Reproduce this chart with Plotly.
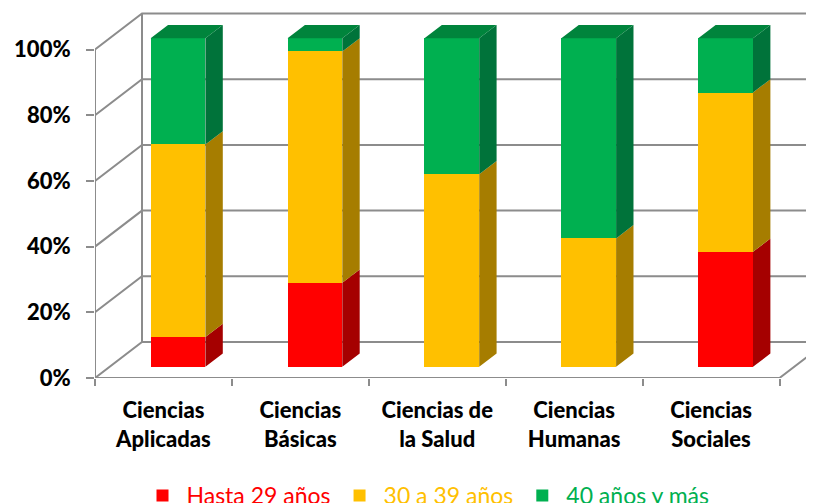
import plotly.graph_objects as go

# ---------------- data ----------------
categories = ["Ciencias<br>Aplicadas", "Ciencias<br>Básicas", "Ciencias de<br>la Salud",
              "Ciencias<br>Humanas", "Ciencias<br>Sociales"]
series_names = ["Hasta 29 años", "30 a 39 años", "40 años y más"]
hasta_29 = [9.1, 25.6, 0.0, 0.0, 35.0]
de_30_a_39 = [58.6, 70.4, 58.6, 39.1, 48.5]
mas_de_40 = [32.3, 4.0, 41.4, 60.9, 16.5]
y_ticks = [0, 20, 40, 60, 80, 100]
y_tick_labels = ["0%", "20%", "40%", "60%", "80%", "100%"]

# ---------------- style ----------------
front_colors = ["#FF0000", "#FFC000", "#00B050"]
side_colors = ["#A50000", "#A67D00", "#00733A"]
top_color = "#00843C"
GRID = "#8C8C8C"
FONT = "Lato"

# page body has an 8px margin, so the figure is sized/offset to compensate
W, H = 806, 495
ML, MR, MT, MB = 87, 0, 0, 125
CAT_PX = 136.9                      # px per category on front plane
PCT_PX = 3.285                      # px per percent
X_MAX = (W - ML - MR) / CAT_PX
Y_MAX = (H - MT - MB) / PCT_PX

DEPTH_X = 47 / CAT_PX               # oblique depth (category units)
DEPTH_Y = 36 / PCT_PX               # oblique depth (percent units)
BAR_W = 0.40
F0 = 0.31                           # bar front position (fraction of depth)
FD = 0.37                           # bar depth (fraction of depth)

n = len(categories)
series = [hasta_29, de_30_a_39, mas_de_40]
ox, oy = F0 * DEPTH_X, F0 * DEPTH_Y
bx, by = FD * DEPTH_X, FD * DEPTH_Y
centers = [i + 0.5 for i in range(n)]

fig = go.Figure()

# walls / gridlines as shapes below the traces
shapes = []
line = dict(color=GRID, width=2)
for v in y_ticks:
    path = f"M0,{v} L{DEPTH_X},{v + DEPTH_Y} L{n + DEPTH_X},{v + DEPTH_Y}"
    shapes.append(dict(type="path", path=path, xref="x", yref="y", line=line, layer="below"))
shapes.append(dict(type="line", x0=DEPTH_X, x1=DEPTH_X, y0=DEPTH_Y, y1=y_ticks[-1] + DEPTH_Y,
                   xref="x", yref="y", line=line, layer="below"))
shapes.append(dict(type="line", x0=0, x1=0, y0=0, y1=y_ticks[-1],
                   xref="x", yref="y", line=line, layer="below"))
shapes.append(dict(type="path", path=f"M0,0 L{n},0 L{n + DEPTH_X},{DEPTH_Y}",
                   xref="x", yref="y", line=line, layer="below"))

# bars (front faces) + side/top faces
bases = [0.0] * n
for s, (name, vals) in enumerate(zip(series_names, series)):
    fig.add_trace(go.Bar(
        x=[c + ox for c in centers], y=vals, base=[b + oy for b in bases],
        width=BAR_W, marker=dict(color=front_colors[s], line=dict(width=0)),
        name=f"<span style='color:{front_colors[s]}'>{name}</span>",
        hoverinfo="skip"))
    sx, sy = [], []
    for i in range(n):
        if vals[i] <= 0:
            continue
        xr = centers[i] + ox + BAR_W / 2
        y0 = bases[i] + oy
        y1 = bases[i] + vals[i] + oy
        sx += [xr, xr + bx, xr + bx, xr, xr, None]
        sy += [y0, y0 + by, y1 + by, y1, y0, None]
    fig.add_trace(go.Scatter(x=sx, y=sy, mode="lines", fill="toself",
                             fillcolor=side_colors[s], line=dict(width=0, color=side_colors[s]),
                             showlegend=False, hoverinfo="skip"))
    bases = [b + v for b, v in zip(bases, vals)]

tx, ty = [], []
for i in range(n):
    xl = centers[i] + ox - BAR_W / 2
    xr = centers[i] + ox + BAR_W / 2
    t = bases[i] + oy
    tx += [xl, xl + bx, xr + bx, xr, xl, None]
    ty += [t, t + by, t + by, t, t, None]
fig.add_trace(go.Scatter(x=tx, y=ty, mode="lines", fill="toself", fillcolor=top_color,
                         line=dict(width=0, color=top_color), showlegend=False, hoverinfo="skip"))

plot_h = H - MT - MB
fig.update_layout(
    width=W, height=H,
    margin=dict(l=ML, r=MR, t=MT, b=MB, autoexpand=False),
    paper_bgcolor="white", plot_bgcolor="white",
    barmode="overlay", bargap=0,
    shapes=shapes,
    showlegend=True,
    legend=dict(orientation="h", x=(418.5 - ML) / (W - ML - MR), xanchor="center",
                y=-(466 - plot_h) / plot_h, yanchor="top", font=dict(family=FONT, size=23),
                itemwidth=38,
                bgcolor="rgba(0,0,0,0)", traceorder="normal"),
    xaxis=dict(range=[0, X_MAX], showgrid=False, zeroline=False, showline=False,
               automargin=False,
               tickmode="array", tickvals=centers, ticktext=categories, ticks="",
               tickfont=dict(family=FONT, size=22, color="#000000", weight=900),
               ticklabelstandoff=17,
               minor=dict(tickmode="array", tickvals=list(range(n + 1)), ticks="outside",
                          ticklen=7, tickwidth=2, tickcolor=GRID, showgrid=False)),
    yaxis=dict(range=[0, Y_MAX], showgrid=False, zeroline=False, showline=False,
               automargin=False,
               tickmode="array", tickvals=y_ticks, ticktext=y_tick_labels, ticks="outside",
               ticklen=8, tickwidth=2, tickcolor=GRID, ticklabelstandoff=11,
               tickfont=dict(family=FONT, size=22, color="#000000", weight=900)),
)

fig.write_html("out.html")
